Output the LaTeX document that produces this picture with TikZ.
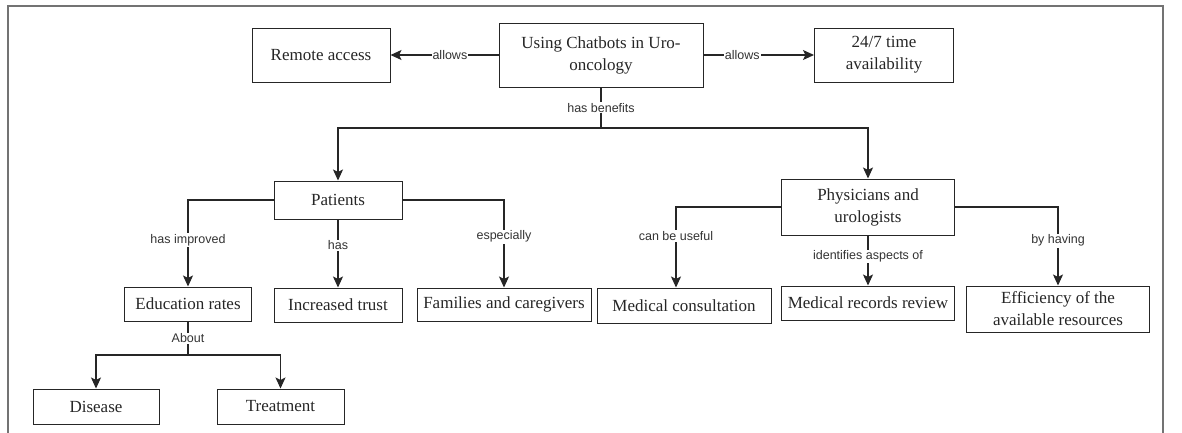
\documentclass[tikz,border=0pt]{standalone}
\usepackage{fontspec}
\setmainfont{Liberation Serif}
\setsansfont{Liberation Sans}
\usetikzlibrary{arrows.meta}

\tikzset{
  box/.style={draw=black!85, line width=1pt, inner sep=0pt, align=center,
    text=black!85, font=\fontsize{17}{22}\selectfont},
  lbl/.style={fill=white, inner sep=1pt, text=black!80,
    font=\sffamily\fontsize{12.5}{14}\selectfont},
  arr/.style={draw=black!85, line width=1.1pt, -{Stealth[length=11pt,width=10pt,inset=2.5pt]}},
  ln/.style={draw=black!85, line width=1.1pt},
}

\begin{document}
\begin{tikzpicture}[x=1pt,y=1pt,yscale=-1,xscale=1]
        \useasboundingbox (0,0) rectangle (1182,432);
        %Frame
        \draw [black!55, line width=2pt] (8,440) -- (8,6) -- (1163,6) -- (1163,440);

        % Text Node
        \draw (601,55) node [box, minimum width=204, minimum height=64] (root) {Using Chatbots in Uro-\\oncology};
        % Text Node
        \draw (321,55) node [box, minimum width=138, minimum height=54] (remote) {Remote access};
        % Text Node
        \draw (884,55) node [box, minimum width=139, minimum height=54] (avail) {24/7 time\\availability};
        % Text Node
        \draw (338,200) node [box, minimum width=128, minimum height=38] (pat) {Patients};
        % Text Node
        \draw (868,207) node [box, minimum width=173, minimum height=56] (phy) {Physicians and\\urologists};
        % Text Node
        \draw (188,304) node [box, minimum width=127, minimum height=34] (edu) {Education rates};
        % Text Node
        \draw (338,305) node [box, minimum width=128, minimum height=34] (trust) {Increased trust};
        % Text Node
        \draw (504,304.5) node [box, minimum width=174, minimum height=33] (fam) {Families and caregivers};
        % Text Node
        \draw (684,305.5) node [box, minimum width=174, minimum height=35] (medcon) {Medical consultation};
        % Text Node
        \draw (868,303) node [box, minimum width=173, minimum height=34] (medrec) {Medical records review};
        % Text Node
        \draw (1058,309) node [box, minimum width=183, minimum height=46] (eff) {Efficiency of the\\available resources};
        % Text Node
        \draw (96,406.5) node [box, minimum width=126, minimum height=35] (dis) {Disease};
        % Text Node
        \draw (280.5,406.5) node [box, minimum width=127, minimum height=35] (trt) {Treatment};

        \coordinate (split) at (601,128);
        \coordinate (edusplit) at (188,355);

        %Straight Lines
        \draw [arr] (root.west) -- (remote.east) node [lbl, pos=0.45] {allows};
        \draw [arr] (root.east) -- (avail.west) node [lbl, pos=0.35] {allows};
        \draw [ln] (root.south) -- (split) node [lbl, midway] {has benefits};
        \draw [arr] (split) -| (pat.north);
        \draw [arr] (split) -| (phy.north);

        %Patients
        \draw [arr] (pat.west) -| (edu.north) node [lbl, pos=0.73] {has improved};
        \draw [arr] (pat.south) -- (trust.north) node [lbl, pos=0.38] {has};
        \draw [arr] (pat.east) -| (fam.north) node [lbl, pos=0.71] {especially};

        %Physicians
        \draw [arr] (phy.west) -| ([xshift=-8pt]medcon.north) node [lbl, pos=0.68] {can be useful};
        \draw [arr] (phy.south) -- (medrec.north) node [lbl, pos=0.42] {identifies aspects of};
        \draw [arr] (phy.east) -| (eff.north) node [lbl, pos=0.715] {by having};

        %Education
        \draw [ln] (edu.south) -- (edusplit) node [lbl, midway] {About};
        \draw [arr] (edusplit) -| (dis.north);
        \draw [arr] (edusplit) -| (trt.north);
    \end{tikzpicture}
\end{document}
